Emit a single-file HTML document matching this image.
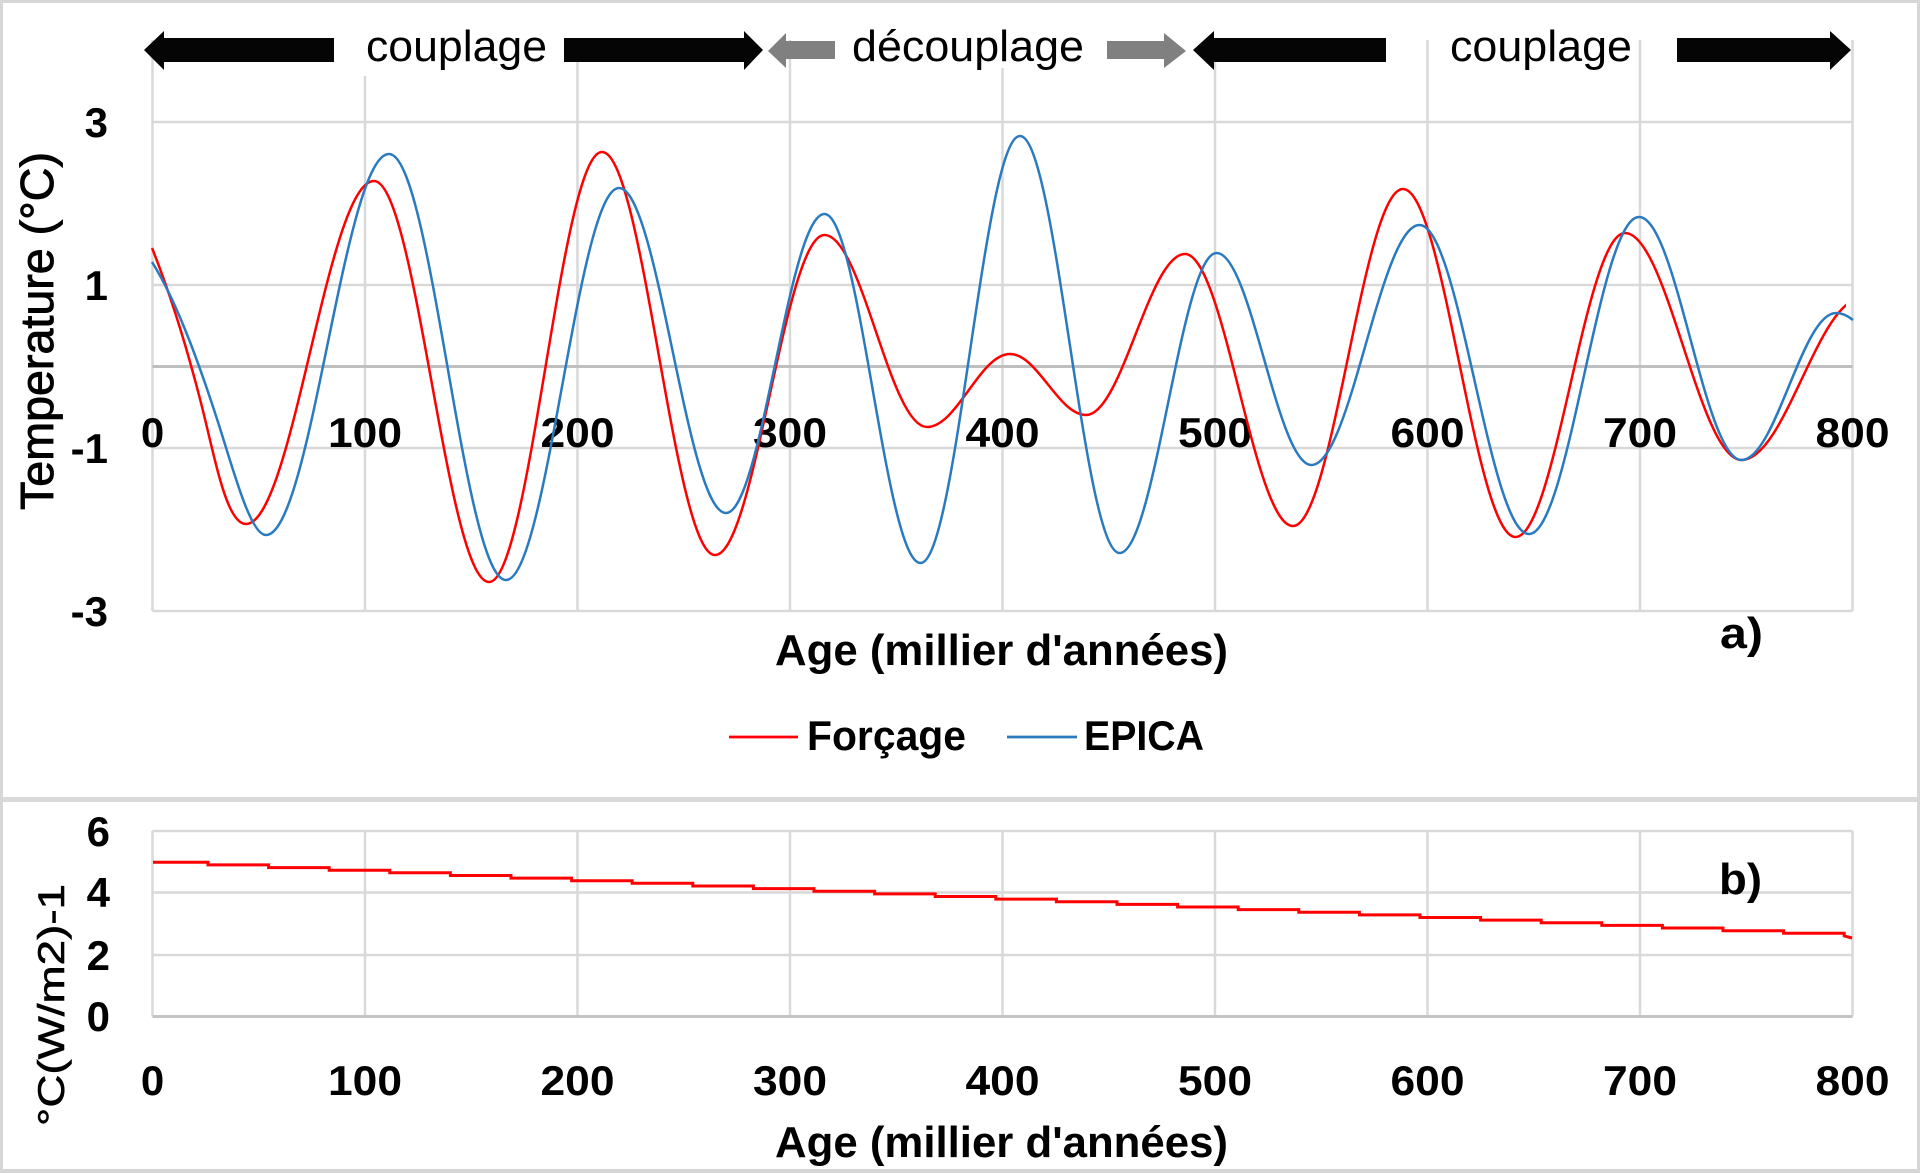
<!DOCTYPE html>
<html>
<head>
<meta charset="utf-8">
<style>
  html,body{margin:0;padding:0;background:#fff;}
  svg{display:block;}
  text{font-family:"Liberation Sans", Arial, sans-serif;fill:#000;}
  .tick{font-size:42px;font-weight:bold;}
</style>
</head>
<body>
<svg width="1920" height="1173" viewBox="0 0 1920 1173" xmlns="http://www.w3.org/2000/svg">
  <defs>
    <clipPath id="clipA"><rect x="150" y="0" width="1696" height="800"/></clipPath>
    <clipPath id="clipB"><rect x="150" y="0" width="1705" height="800"/></clipPath>
  </defs>
  <rect x="0" y="0" width="1920" height="1173" fill="#fff"/>

  <!-- ===== Panel a grid ===== -->
  <g stroke="#d9d9d9" stroke-width="2.5" fill="none">
    <line x1="152.5" y1="40" x2="152.5" y2="611"/>
    <line x1="365" y1="40" x2="365" y2="611"/>
    <line x1="577.5" y1="40" x2="577.5" y2="611"/>
    <line x1="790" y1="40" x2="790" y2="611"/>
    <line x1="1002.5" y1="40" x2="1002.5" y2="611"/>
    <line x1="1215" y1="40" x2="1215" y2="611"/>
    <line x1="1427.5" y1="40" x2="1427.5" y2="611"/>
    <line x1="1640" y1="40" x2="1640" y2="611"/>
    <line x1="1852.5" y1="40" x2="1852.5" y2="611"/>
    <line x1="152.5" y1="122" x2="1852.5" y2="122"/>
    <line x1="152.5" y1="285" x2="1852.5" y2="285"/>
    <line x1="152.5" y1="448" x2="1852.5" y2="448"/>
    <line x1="152.5" y1="611" x2="1852.5" y2="611"/>
  </g>
  <line x1="152.5" y1="366.5" x2="1852.5" y2="366.5" stroke="#bfbfbf" stroke-width="3"/>

  <!-- text boxes (white) at top -->
  <rect x="358" y="24" width="197" height="52" fill="#fff"/>
  <rect x="845" y="24" width="247" height="44" fill="#fff"/>
  <rect x="1443" y="24" width="194" height="52" fill="#fff"/>

  <!-- arrows -->
  <g fill="#050505">
    <polygon points="144,50 164,31 164,38 334,38 334,62 164,62 164,70"/>
    <polygon points="564,38 744,38 744,31 763,50 744,70 744,62 564,62"/>
    <polygon points="1193,50 1214,31 1214,38 1386,38 1386,62 1214,62 1214,70"/>
    <polygon points="1677,38 1830,38 1830,31 1851,50 1830,70 1830,62 1677,62"/>
  </g>
  <g fill="#808080">
    <polygon points="768,51 786,33 786,41 835,41 835,59 786,59 786,68"/>
    <polygon points="1107,41 1164,41 1164,33 1186,51 1164,68 1164,59 1107,59"/>
  </g>
  <text x="366" y="61" font-size="44" textLength="181" lengthAdjust="spacingAndGlyphs">couplage</text>
  <text x="852" y="61" font-size="44" textLength="232" lengthAdjust="spacingAndGlyphs">découplage</text>
  <text x="1450" y="61" font-size="44" textLength="182" lengthAdjust="spacingAndGlyphs">couplage</text>

  <!-- Panel a tick labels -->
  <g class="tick" text-anchor="end">
    <text x="108" y="137" class="tick">3</text>
    <text x="108" y="300" class="tick">1</text>
    <text x="108" y="463" class="tick">-1</text>
    <text x="108" y="626" class="tick">-3</text>
  </g>
  <g text-anchor="middle">
    <text x="152.5" y="447" class="tick">0</text>
    <text x="365" y="447" class="tick" textLength="74" lengthAdjust="spacingAndGlyphs">100</text>
    <text x="577.5" y="447" class="tick" textLength="74" lengthAdjust="spacingAndGlyphs">200</text>
    <text x="790" y="447" class="tick" textLength="74" lengthAdjust="spacingAndGlyphs">300</text>
    <text x="1002.5" y="447" class="tick" textLength="74" lengthAdjust="spacingAndGlyphs">400</text>
    <text x="1215" y="447" class="tick" textLength="74" lengthAdjust="spacingAndGlyphs">500</text>
    <text x="1427.5" y="447" class="tick" textLength="74" lengthAdjust="spacingAndGlyphs">600</text>
    <text x="1640" y="447" class="tick" textLength="74" lengthAdjust="spacingAndGlyphs">700</text>
    <text x="1852.5" y="447" class="tick" textLength="74" lengthAdjust="spacingAndGlyphs">800</text>
  </g>

  <!-- Panel a curves -->
  <path clip-path="url(#clipA)" fill="none" stroke="#ff0000" stroke-width="2.5" stroke-linejoin="round"
    d="M152,248 C168,288 184,337 200,399 C215,457 226,524 246,524
       C292.5,524 327.5,181 374,181
       C415.8,181 447.2,582 489,582
       C530.1,582 560.9,152 602,152
       C643.1,152 673.9,555 715,555
       C754.8,555 784.7,235 824.5,235
       C861.7,235 889.8,427 927,427
       C957.2,427 979.8,354 1010,354
       C1037.6,354 1058.4,415 1086,415
       C1122,415 1149,254 1185,254
       C1224.2,254 1253.8,526 1293,526
       C1333,526 1363,189 1403,189
       C1443.9,189 1474.6,537 1515.5,537
       C1555.3,537 1585.2,233 1625,233
       C1667.3,233 1699.2,460 1741.5,460
       C1785.3,460 1818.2,298 1862,298"/>
  <path clip-path="url(#clipB)" fill="none" stroke="#2a7ac0" stroke-width="2.5" stroke-linejoin="round"
    d="M152,262 C174,297 195,351 217,419 C233,468 250,535 266,535
       C310.7,535 344.3,154 389,154
       C431.5,154 463.5,580 506,580
       C547.1,580 577.9,188 619,188
       C657.9,188 687.1,513 726,513
       C761.8,513 788.7,214 824.5,214
       C859.4,214 885.6,563 920.5,563
       C956.7,563 983.8,136 1020,136
       C1056.2,136 1083.4,553 1119.6,553
       C1154.9,553 1181.3,253 1216.6,253
       C1251.1,253 1277,465 1311.5,465
       C1350.8,465 1380.3,225 1419.6,225
       C1459.4,225 1489.2,534 1529,534
       C1569,534 1599,217 1639,217
       C1676.2,217 1704.3,460 1741.5,460
       C1775.8,460 1801.7,313 1836,313
       C1842,313 1848,316 1853,320"/>

  <!-- Panel a titles -->
  <text transform="translate(53,331) rotate(-90)" text-anchor="middle" font-size="46" stroke="#000" stroke-width="0.9" textLength="358" lengthAdjust="spacingAndGlyphs">Temperature (°C)</text>
  <text x="775" y="665" font-size="44" font-weight="bold" textLength="453" lengthAdjust="spacingAndGlyphs">Age (millier d'années)</text>
  <text x="1720" y="648" font-size="44" font-weight="bold" textLength="43" lengthAdjust="spacingAndGlyphs">a)</text>

  <!-- Legend -->
  <line x1="729" y1="737" x2="798" y2="737" stroke="#ff0000" stroke-width="2.7"/>
  <text x="807" y="750" font-size="42" font-weight="bold" textLength="159" lengthAdjust="spacingAndGlyphs">Forçage</text>
  <line x1="1007" y1="737" x2="1077" y2="737" stroke="#2a7ac0" stroke-width="2.7"/>
  <text x="1084" y="750" font-size="42" font-weight="bold" textLength="120" lengthAdjust="spacingAndGlyphs">EPICA</text>

  <!-- separator & border -->
  <rect x="0" y="797" width="1920" height="5" fill="#dadada"/>
  <rect x="1.5" y="1.5" width="1917" height="1170" fill="none" stroke="#d6d6d6" stroke-width="3"/>
  <rect x="0" y="1169" width="1920" height="4" fill="#d6d6d6"/>

  <!-- ===== Panel b grid ===== -->
  <g stroke="#d9d9d9" stroke-width="2.5" fill="none">
    <line x1="152.5" y1="831" x2="152.5" y2="1016.5"/>
    <line x1="365" y1="831" x2="365" y2="1016.5"/>
    <line x1="577.5" y1="831" x2="577.5" y2="1016.5"/>
    <line x1="790" y1="831" x2="790" y2="1016.5"/>
    <line x1="1002.5" y1="831" x2="1002.5" y2="1016.5"/>
    <line x1="1215" y1="831" x2="1215" y2="1016.5"/>
    <line x1="1427.5" y1="831" x2="1427.5" y2="1016.5"/>
    <line x1="1640" y1="831" x2="1640" y2="1016.5"/>
    <line x1="1852.5" y1="831" x2="1852.5" y2="1016.5"/>
    <line x1="152.5" y1="831" x2="1852.5" y2="831"/>
    <line x1="152.5" y1="892.5" x2="1852.5" y2="892.5"/>
    <line x1="152.5" y1="955" x2="1852.5" y2="955"/>
  </g>
  <line x1="152.5" y1="1016.5" x2="1852.5" y2="1016.5" stroke="#c4c4c4" stroke-width="3"/>

  <g text-anchor="end">
    <text x="110" y="846" class="tick">6</text>
    <text x="110" y="907" class="tick">4</text>
    <text x="110" y="970" class="tick">2</text>
    <text x="110" y="1031" class="tick">0</text>
  </g>
  <g text-anchor="middle">
    <text x="152.5" y="1095" class="tick">0</text>
    <text x="365" y="1095" class="tick" textLength="74" lengthAdjust="spacingAndGlyphs">100</text>
    <text x="577.5" y="1095" class="tick" textLength="74" lengthAdjust="spacingAndGlyphs">200</text>
    <text x="790" y="1095" class="tick" textLength="74" lengthAdjust="spacingAndGlyphs">300</text>
    <text x="1002.5" y="1095" class="tick" textLength="74" lengthAdjust="spacingAndGlyphs">400</text>
    <text x="1215" y="1095" class="tick" textLength="74" lengthAdjust="spacingAndGlyphs">500</text>
    <text x="1427.5" y="1095" class="tick" textLength="74" lengthAdjust="spacingAndGlyphs">600</text>
    <text x="1640" y="1095" class="tick" textLength="74" lengthAdjust="spacingAndGlyphs">700</text>
    <text x="1852.5" y="1095" class="tick" textLength="74" lengthAdjust="spacingAndGlyphs">800</text>
  </g>

  <!-- Panel b line (staircase) -->
  <path fill="none" stroke="#ff0000" stroke-width="3"
    d="M153,862.3 H208 V864.9 H268.6 V867.6 H329.2 V870.2 H389.8 V872.8 H450.4 V875.5 H511 V878.1 H571.6 V880.7 H632.2 V883.3 H692.8 V886 H753.4 V888.6 H814 V891.2 H874.6 V893.9 H935.2 V896.5 H995.8 V899.1 H1056.4 V901.7 H1117 V904.4 H1177.6 V907 H1238.2 V909.6 H1298.8 V912.3 H1359.4 V914.9 H1420 V917.5 H1480.6 V920.1 H1541.2 V922.8 H1601.8 V925.4 H1662.4 V928 H1723 V930.7 H1783.6 V933.3 H1844.2 V935.9 L1852,938"/>

  <text transform="translate(64,1005) rotate(-90)" text-anchor="middle" font-size="37" stroke="#000" stroke-width="0.6" textLength="242" lengthAdjust="spacingAndGlyphs">°C(W/m2)-1</text>
  <text x="775" y="1157" font-size="44" font-weight="bold" textLength="453" lengthAdjust="spacingAndGlyphs">Age (millier d'années)</text>
  <text x="1719" y="894" font-size="44" font-weight="bold" textLength="43" lengthAdjust="spacingAndGlyphs">b)</text>
</svg>
</body>
</html>
